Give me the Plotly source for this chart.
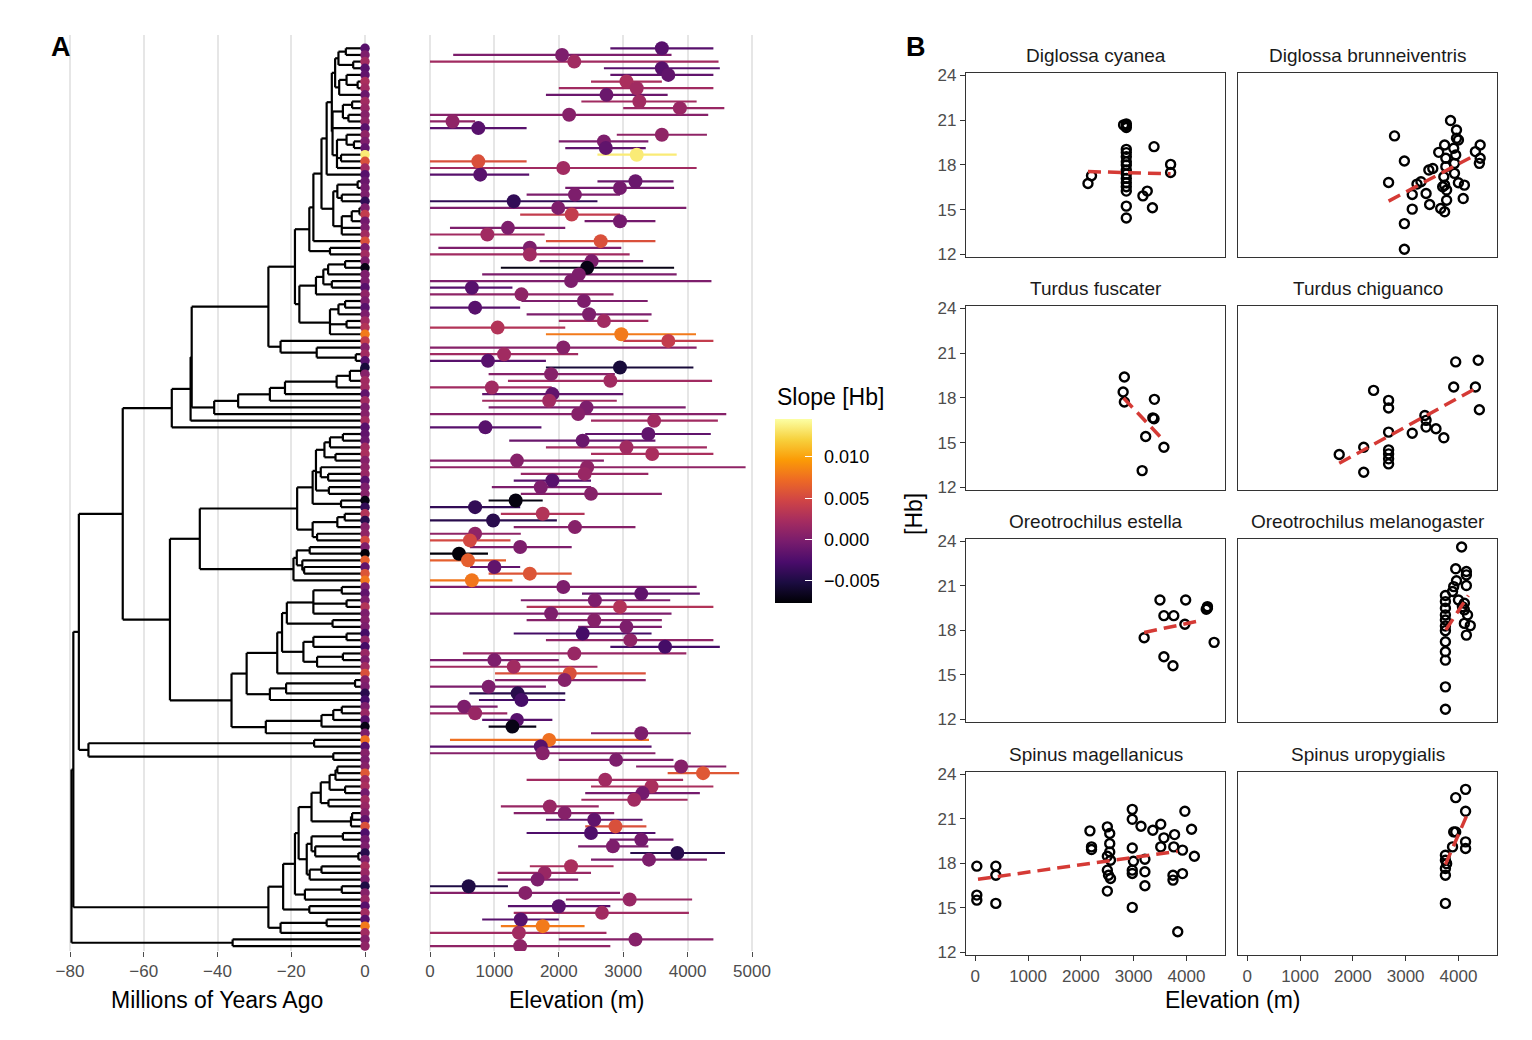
import plotly.graph_objects as go

W, H = 1532, 1040
FONT = "Liberation Sans, Arial, Helvetica, sans-serif"

# ---------------- Panel A data (rows listed top -> bottom) ----------------
elev_min = [2800, 360, 0, 2700, 2800, 2500, 2000, 1800, 2350, 3000,
            0, 0, 0, 2900, 2000, 2100, 2600, 0, 0, 0,
            2600, 2100, 1500, 0, 0, 1400, 2400, 310, 0, 1800,
            130, 0, 1700, 1100, 810, 0, 0, 0, 1420, 0,
            1500, 2000, 0, 1800, 3000, 0,
            0, 0, 1800, 910, 1210, 0, 810, 810, 910, 0,
            2500, 0, 2410, 1230, 1800, 2500, 0, 0, 1410, 1300,
            960, 1410, 910, 0, 1100, 0, 1300, 0, 0, 620,
            0, 0, 620, 910, 0, 0, 2360, 1410, 1500, 0,
            1500, 2300, 1300, 1800, 2800,
            510, 0, 0, 1010, 1010, 0, 610, 760, 0, 0,
            810, 910, 2500, 310, 0, 0, 2000, 3200, 3690, 1500,
            2500, 2410, 2350, 1100, 1300, 1800, 2410, 1500, 2790, 2300,
            3110, 2500, 1550, 1050, 1050, 0, 0, 2110, 1210, 1300,
            810, 1100, 0, 2000, 0]
elev_max = [4400, 3750, 4480, 4500, 4400, 3600, 4400, 3690, 4140, 4570,
            4320, 700, 1500, 4300, 3390, 3350, 3830, 1500, 4140, 1540,
            3780, 3790, 2950, 2600, 3980, 2950, 3500, 2100, 1780, 3500,
            2970, 3100, 3310, 3790, 3830, 4370, 1280, 2850, 3380, 1400,
            3440, 3390, 2100, 4130, 4400, 4140,
            2300, 1800, 4090, 2870, 4380, 1890, 3000, 2900, 3970, 4600,
            4470, 1730, 4360, 3500, 4300, 4400, 2700, 4900, 3390, 2500,
            2500, 3600, 1750, 1400, 2400, 1970, 3190, 1410, 1250, 2200,
            900, 1180, 1400, 2200, 1280, 4140, 4190, 3730, 4400, 3750,
            3600, 3600, 3440, 4400, 4500,
            3980, 2000, 2600, 3350, 3350, 1800, 2100, 2100, 1050, 1200,
            1900, 1650, 4050, 3400, 3440, 3500, 3780, 4600, 4800, 3930,
            4400, 4190, 4000, 2620, 2860, 3300, 3360, 3500, 3780, 3390,
            4580, 4300, 2850, 2500, 2300, 1210, 2950, 4070, 2800, 4020,
            2000, 2400, 2740, 4400, 2800]
elev_mean = [3600, 2050, 2240, 3600, 3700, 3050, 3210, 2740, 3250, 3880,
             2160, 350, 750, 3600, 2700, 2730, 3210, 750, 2070, 780,
             3190, 2950, 2250, 1300, 1990, 2200, 2950, 1210, 890, 2650,
             1550, 1550, 2510, 2440, 2310, 2190, 650, 1420, 2390, 700,
             2470, 2700, 1050, 2970, 3700, 2070,
             1150, 900, 2950, 1880, 2800, 960, 1900, 1850, 2430, 2300,
             3480, 860, 3390, 2370, 3050, 3450, 1350, 2440, 2400, 1900,
             1720, 2500, 1330, 700, 1750, 980, 2250, 700, 620, 1400,
             450, 590, 1000, 1550, 650, 2070, 3280, 2560, 2950, 1880,
             2550, 3050, 2370, 3110, 3650,
             2240, 1000, 1300, 2170, 2090, 910, 1360, 1420, 530, 700,
             1350, 1280, 3280, 1850, 1720, 1750, 2890, 3900, 4240, 2720,
             3440, 3300, 3170, 1860, 2090, 2550, 2880, 2500, 3280, 2840,
             3840, 3400, 2190, 1780, 1670, 600, 1480, 3100, 2000, 2670,
             1410, 1750, 1380, 3190, 1400]
slope = [-0.002, 0.000, 0.002, -0.002, -0.0015, 0.0025, 0.002, -0.001, 0.002, 0.0015,
         0.0005, 0.001, -0.002, 0.001, 0.000, -0.0015, 0.0135, 0.0055, 0.002, -0.002,
         -0.001, -0.0005, 0.000, -0.004, 0.000, 0.004, -0.0005, 0.000, 0.002, 0.0055,
         0.000, 0.002, 0.000, -0.007, 0.000, 0.000, -0.002, 0.001, 0.000, -0.002,
         0.000, 0.002, 0.003, 0.008, 0.004, 0.0005,
         0.002, -0.002, -0.0055, 0.0005, 0.002, 0.002, -0.0015, 0.002, 0.000, 0.0005,
         0.002, -0.002, -0.0015, -0.001, 0.002, 0.0025, 0.0005, 0.001, 0.0015, -0.002,
         0.000, 0.0005, -0.0072, -0.004, 0.003, -0.0045, 0.0005, 0.001, 0.005, 0.000,
         -0.0075, 0.0065, -0.0015, 0.0058, 0.0078, 0.000, -0.0015, 0.000, 0.003, 0.000,
         0.0005, 0.000, -0.003, 0.001, -0.003,
         0.0015, 0.000, 0.002, 0.0055, 0.0005, 0.000, -0.0045, -0.003, 0.000, 0.0015,
         -0.002, -0.007, 0.000, 0.0075, -0.002, 0.0005, 0.000, 0.0005, 0.006, 0.002,
         0.0025, -0.0005, 0.002, 0.0015, 0.0005, -0.0015, 0.0055, -0.0025, -0.0005, 0.000,
         -0.0045, 0.000, 0.0025, 0.0015, 0.000, -0.005, 0.0005, 0.0015, -0.002, 0.002,
         -0.002, 0.008, 0.002, 0.0005, 0.001]
SLOPE_MIN, SLOPE_MAX = -0.0077, 0.0146
slope_ticks = [-0.005, 0.0, 0.005, 0.010]
slope_ticktext = ["\u22120.005", "0.000", "0.005", "0.010"]

# Phylogeny: [node age (Myr, negative), child, child, ...]; ints are tip rows
clade_top = [-26.2,
             [-19.0,
              [-15.1,
               [-14.0,
                [-11.8,
                 [-10.4,
                  [-9.0,
                   [-8.1, [-7.2, [-5.2, 0, 1], [-3.2, 2, 3]], [-7.0, [-5.0, 4, [-2.0, 5, 6]], 7]],
                   [-8.8, [-6.0, [-3.5, 8, 9], [-4.5, 10, 11]], 12,
                    [-7.6, [-5.0, 13, [-3.0, 14, 15]], [-6.5, 16, 17], 18]]],
                  19],
                 [-8.6, [-7.5, [-2.0, 20, 21], [-6.3, 22, 23]],
                  [-6.3, [-3.6, [-1.5, 24, 25], 26], 27, 28]]],
                29],
               [-9.5, 30, 31]],
              [-17.8,
               [-13.3, [-11.3, [-10.0, [-5.4, 32, 33], 34], [-9.0, 35, 36]], 37],
               [-9.5, [-7.2, [-5.4, 38, 39], 40], [-5.0, 41, 42], 43]]],
             [-22.9, 44, [-13.1, 45, [-2.5, 46, 47]]]]
clade_ladder = [-40.9, [-34.4, [-25.8, [-21.7, [-7.7, [-4.1, [-1.0, 48, 49], 50], 51], 52], 53], 54], 55]
clade_u1 = [-52.4, [-47.3, [-47.0, clade_top, clade_ladder], 56], 57]
clade_448 = [-44.8,
             [-18.4,
              [-14.2, [-13.3, [-11.0, [-9.5, [-6.0, 58, 59], 60], [-8.0, 61, 62]],
                       [-12.0, 63, [-10.0, 64, 65]], [-9.8, 66, 67]],
               [-6.5, 68, 69]],
              [-14.2, [-7.5, [-5.5, 70, 71], 72], [-13.0, 73, 74]]],
             [-19.4, [-18.5, [-15.0, 75, 76], [-17.0, 77, [-16.5, 78, 79]]], 80]]
clade_362 = [-36.2,
             [-32.1,
              [-23.8,
               [-22.5,
                [-21.2, [-14.0, [-6.3, 81, 82], [-5.0, 83, 84], 85], [-8.8, 86, 87]],
                [-16.7, [-14.0, [-5.0, 88, 89], 90], [-13.0, [-6.0, 91, 92], 93]]],
               94],
              [-25.8, [-21.4, [-2.7, 95, 96], 97], 98]],
             [-26.9, [-11.8, [-8.6, [-6.3, 99, 100], 101], 102], 103]]
clade_upper = [-65.7, clade_u1, [-52.9, clade_448, clade_362]]
clade_75 = [-75.0, [-13.8, 104, 105], [-8.6, 106, 107]]
clade_bottom = [-26.2,
                [-22.2,
                 [-19.0,
                  [-18.0,
                   [-14.5, [-12.0, [-9.6, [-8.0, [-7.5, 108, 109], 110], [-5.4, 111, 112]], [-9.9, 113, 114]],
                    [-3.8, [-3.5, 115, 116], 117]],
                   [-15.8, [-14.5, [-6.0, 118, 119], [-13.5, 120, [-1.8, 121, 122]]],
                    [-15.0, [-11.8, 123, 124], 125]]],
                  [-16.3, [-6.3, 126, 127], 128]],
                 [-15.1, 129, 130]],
                [-22.9, [-10.4, 131, 132], 133]]
clade_last = [-35.9, 134, 135]
TREE = [-79.6, [-79.1, [-77.6, clade_upper, clade_75], clade_bottom], clade_last]

# ---------------- Panel B data ----------------
panel_titles = ["Diglossa cyanea", "Diglossa brunneiventris", "Turdus fuscater", "Turdus chiguanco",
                "Oreotrochilus estella", "Oreotrochilus melanogaster", "Spinus magellanicus", "Spinus uropygialis"]

dc_elev = [2135, 2202, 2861, 2861, 2861, 2861, 2861, 2861, 2861, 2861, 2861, 2861, 2861, 2861,
           2861, 2861, 2861, 2861, 2809, 3386, 3176, 3258, 3356, 3700, 3700]
dc_hb = [16.75, 17.27, 20.75, 20.64, 20.5, 19.04, 18.82, 18.55, 18.21, 17.99, 17.65, 17.38, 17.09, 16.8,
         16.53, 16.24, 15.23, 14.44, 20.68, 19.22, 15.92, 16.24, 15.12, 18.03, 17.49]
dc_fit_elev = [2135, 3700]
dc_fit_hb = [17.55, 17.4]

db_elev = [2789, 2677, 2976, 2976, 2976, 3125, 3125, 3215, 3387, 3439, 3514, 3454, 3626, 3664, 3738,
           3738, 3761, 3761, 3723, 3738, 3701, 3776, 3776, 3850, 3963, 3963, 4000, 3910, 3948, 3925,
           3925, 3999, 4112, 4090, 4321, 4411, 4411, 4396, 3290]
db_hb = [19.94, 16.82, 18.26, 14.06, 12.34, 16.01, 15.03, 16.71, 16.08, 17.65, 17.76, 15.34, 18.84, 15.07,
         14.85, 19.33, 18.44, 17.88, 17.2, 16.64, 16.53, 16.31, 15.63, 20.97, 20.34, 19.78, 19.67, 19.11,
         18.66, 18.1, 17.43, 16.8, 16.64, 15.74, 18.89, 19.33, 18.44, 18.1, 16.87]
db_fit_elev = [2677, 4224]
db_fit_hb = [15.57, 18.48]

tf_elev = [2824, 2801, 2824, 3393, 3386, 3363, 3228, 3573, 3161]
tf_hb = [19.4, 18.39, 17.72, 17.9, 16.6, 16.66, 15.41, 14.69, 13.12]
tf_fit_elev = [2809, 3498]
tf_fit_hb = [17.99, 15.41]

tc_elev = [1742, 2206, 2206, 2393, 2677, 2677, 2677, 2677, 2677, 2677, 2677, 3125, 3364, 3387, 3387,
           3574, 3723, 3948, 3910, 4374, 4321, 4396]
tc_hb = [14.2, 14.69, 13.01, 18.5, 17.83, 17.32, 15.7, 14.51, 14.24, 13.91, 13.57, 15.63, 16.82, 16.49,
         16.04, 15.93, 15.32, 20.41, 18.73, 20.52, 18.73, 17.2]
tc_fit_elev = [1742, 4396]
tc_fit_hb = [13.61, 18.77]

oe_elev = [3199, 3498, 3573, 3760, 3573, 3745, 3985, 3970, 4397, 4397, 4375, 4524]
oe_hb = [17.5, 20.05, 18.99, 18.99, 16.22, 15.61, 20.05, 18.41, 19.49, 19.6, 19.42, 17.19]
oe_fit_elev = [3199, 4232]
oe_fit_hb = [17.86, 18.63]

om_elev = [3753, 3753, 3753, 3753, 3753, 3753, 3753, 3753, 3753, 3753, 3753, 3753,
           3948, 3910, 3963, 3888, 4000, 4060,
           4150, 4150, 4150, 4112, 4112, 4172, 4112, 4224, 4150, 4075]
om_hb = [20.35, 19.94, 19.49, 19.04, 18.7, 18.29, 17.98, 17.23, 16.56, 15.99, 14.19, 12.68,
         22.15, 20.95, 21.34, 20.62, 20.05, 23.62,
         21.97, 21.74, 21.02, 19.83, 19.38, 19.04, 18.47, 18.32, 17.68, 19.6]
om_fit_elev = [3761, 4187]
om_fit_hb = [18.02, 20.35]

sm_elev = [30, 30, 30, 390, 390, 390, 2172, 2202, 2202, 2502, 2547, 2547, 2547, 2502, 2562, 2502, 2524,
           2562, 2502, 2974, 2974, 2974, 2996, 2974, 2974, 2974, 3139, 3213, 3213, 3213, 3363, 3513,
           3573, 3513, 3775, 3760, 3745, 3745, 3835, 3925, 3925, 3970, 4097, 4150]
sm_hb = [17.81, 15.86, 15.52, 17.81, 17.2, 15.3, 20.19, 19.11, 18.93, 20.46, 20.01, 19.33, 18.77, 18.48,
         18.21, 17.54, 17.2, 16.98, 16.13, 21.64, 20.97, 19.04, 18.14, 17.54, 17.32, 15.03, 20.5, 18.28,
         17.43, 16.49, 20.23, 20.64, 19.72, 19.11, 19.94, 19.11, 17.2, 16.87, 13.39, 18.89, 17.31, 21.51,
         20.3, 18.48]
sm_fit_elev = [52, 3835]
sm_fit_hb = [16.93, 18.82]

su_elev = [3753, 3753, 3753, 3753, 3753, 3776, 3888, 3948, 3910, 3948, 4135, 4135, 4135, 4135]
su_hb = [18.55, 18.21, 17.65, 17.2, 15.3, 17.98, 19.11, 20.12, 20.12, 22.43, 22.99, 21.51, 19.45, 19.0]
su_fit_elev = [3753, 4150]
su_fit_hb = [17.92, 21.17]

panel_points = [(dc_elev, dc_hb, dc_fit_elev, dc_fit_hb), (db_elev, db_hb, db_fit_elev, db_fit_hb),
                (tf_elev, tf_hb, tf_fit_elev, tf_fit_hb), (tc_elev, tc_hb, tc_fit_elev, tc_fit_hb),
                (oe_elev, oe_hb, oe_fit_elev, oe_fit_hb), (om_elev, om_hb, om_fit_elev, om_fit_hb),
                (sm_elev, sm_hb, sm_fit_elev, sm_fit_hb), (su_elev, su_hb, su_fit_elev, su_fit_hb)]

hb_ticks = [12, 15, 18, 21, 24]
elev_ticks_b = [0, 1000, 2000, 3000, 4000]
myr_ticks = [-80, -60, -40, -20, 0]
myr_ticktext = ["\u221280", "\u221260", "\u221240", "\u221220", "0"]
elev_ticks_a = [0, 1000, 2000, 3000, 4000, 5000]


# ---------------- helpers ----------------
def px_x(p):
    return p / W


def px_y(p):
    return 1 - p / H


def layout_tree(node, xs, ys):
    if isinstance(node, int):
        return 0.0, -node
    age = node[0]
    kids = [layout_tree(c, xs, ys) for c in node[1:]]
    kys = [k[1] for k in kids]
    y = sum(kys) / len(kys)
    xs += [age, age, None]
    ys += [min(kys), max(kys), None]
    for kx, ky in kids:
        xs += [age, kx, None]
        ys += [ky, ky, None]
    return age, y


fig = go.Figure()

# ---- tree ----
tx, ty = [], []
layout_tree(TREE, tx, ty)
fig.add_trace(go.Scatter(x=tx, y=ty, mode="lines", line=dict(color="black", width=2.2),
                         xaxis="x", yaxis="y", showlegend=False, hoverinfo="skip"))
rows = list(range(len(slope)))
tip_y = [-r for r in rows]
fig.add_trace(go.Scatter(x=[0] * len(rows), y=tip_y, mode="markers",
                         marker=dict(size=9.5, color=slope, colorscale="Inferno", cmin=SLOPE_MIN, cmax=SLOPE_MAX,
                                     showscale=False, line=dict(width=0)),
                         xaxis="x", yaxis="y", showlegend=False))

# ---- elevation ranges ----
cb_common = dict(x=px_x(775), xanchor="left", y=px_y(419), yanchor="top",
                 len=184, lenmode="pixels", thickness=37, thicknessmode="pixels", outlinewidth=0,
                 tickvals=slope_ticks, ticktext=slope_ticktext, xpad=0, ypad=0)
fig.add_trace(go.Bar(y=tip_y, x=[mx - mn for mn, mx in zip(elev_min, elev_max)], base=elev_min,
                     orientation="h", width=0.33,
                     marker=dict(color=slope, colorscale="Inferno", cmin=SLOPE_MIN, cmax=SLOPE_MAX,
                                 line=dict(width=0)),
                     xaxis="x2", yaxis="y2", showlegend=False))
fig.add_trace(go.Scatter(x=elev_mean, y=tip_y, mode="markers",
                         marker=dict(size=14, color=slope, colorscale="Inferno", cmin=SLOPE_MIN, cmax=SLOPE_MAX,
                                     line=dict(width=0), showscale=True,
                                     colorbar=dict(**cb_common, ticks="inside", ticklen=7, tickcolor="white",
                                                   tickwidth=1.2, showticklabels=False)),
                         xaxis="x2", yaxis="y2", showlegend=False))
# label-only colour bar (transparent bar) so the labels sit clear of the bar like ggplot
fig.add_trace(go.Scatter(x=[None], y=[None], mode="markers",
                         marker=dict(color=[SLOPE_MIN], cmin=SLOPE_MIN, cmax=SLOPE_MAX,
                                     colorscale=[[0, "rgba(0,0,0,0)"], [1, "rgba(0,0,0,0)"]], showscale=True,
                                     colorbar=dict(**cb_common, ticks="outside", ticklen=9,
                                                   tickcolor="rgba(0,0,0,0)",
                                                   tickfont=dict(family=FONT, size=18, color="black"))),
                         xaxis="x2", yaxis="y2", showlegend=False, hoverinfo="skip"))

yr = [-135.74, 2.0]
axis_font = dict(family=FONT, size=17, color="#4d4d4d")
layout = dict(
    width=W, height=H, autosize=False,
    margin=dict(l=0, r=0, t=0, b=0, pad=0, autoexpand=False),
    paper_bgcolor="white", plot_bgcolor="white",
    font=dict(family=FONT, color="black"),
    xaxis=dict(domain=[px_x(55), px_x(378)], range=[-84.07, 3.525], anchor="y",
               tickvals=myr_ticks, ticktext=myr_ticktext, showgrid=True, gridcolor="#e6e6e6", gridwidth=1.6,
               zeroline=False, showline=False, ticks="outside", ticklen=5, tickcolor="#4d4d4d",
               tickfont=axis_font),
    yaxis=dict(domain=[px_y(951), px_y(35)], range=yr, anchor="x", visible=False),
    xaxis2=dict(domain=[px_x(415), px_x(768)], range=[-233, 5248], anchor="y2",
                tickvals=elev_ticks_a, showgrid=True, gridcolor="#e6e6e6", gridwidth=1.6,
                zeroline=False, showline=False, ticks="outside", ticklen=5, tickcolor="#4d4d4d",
                tickfont=axis_font),
    yaxis2=dict(domain=[px_y(951), px_y(35)], range=yr, anchor="x2", visible=False),
)

col_x = [(966, 1225), (1238, 1497)]
row_y = [(73, 257), (306, 490), (539, 722), (772, 955)]
title_y = [55, 288, 521, 754]
annotations = []
for k, (title, pts) in enumerate(zip(panel_titles, panel_points)):
    r, c = divmod(k, 2)
    ax = k + 3
    xs, ys, fx, fy = pts
    fig.add_trace(go.Scatter(x=xs, y=ys, mode="markers",
                             marker=dict(symbol="circle-open", size=9, color="black", line=dict(width=2.4)),
                             xaxis=f"x{ax}", yaxis=f"y{ax}", showlegend=False))
    fig.add_trace(go.Scatter(x=fx, y=fy, mode="lines",
                             line=dict(color="#d53a35", width=3.5, dash="13px,7px"),
                             xaxis=f"x{ax}", yaxis=f"y{ax}", showlegend=False))
    x0, x1 = col_x[c]
    y0, y1 = row_y[r]
    layout[f"xaxis{ax}"] = dict(domain=[px_x(x0), px_x(x1)], range=[-175, 4730], anchor=f"y{ax}",
                                showline=True, mirror=True, linecolor="#333333", linewidth=1.2,
                                showgrid=False, zeroline=False, tickvals=elev_ticks_b,
                                ticks="outside" if r == 3 else "", showticklabels=(r == 3),
                                ticklen=5, tickcolor="#333333", tickfont=axis_font)
    layout[f"yaxis{ax}"] = dict(domain=[px_y(y1), px_y(y0)], range=[11.82, 24.16], anchor=f"x{ax}",
                                showline=True, mirror=True, linecolor="#333333", linewidth=1.2,
                                showgrid=False, zeroline=False, tickvals=hb_ticks,
                                ticks="outside" if c == 0 else "", showticklabels=(c == 0),
                                ticklen=5, tickcolor="#333333", tickfont=axis_font)
    annotations.append(dict(text=title, x=px_x((x0 + x1) / 2), y=px_y(title_y[r]), xref="paper", yref="paper",
                            showarrow=False, xanchor="center", yanchor="middle",
                            font=dict(family=FONT, size=19, color="#1a1a1a")))


def label(text, x, y, size, anchor="center", angle=0, bold=False):
    t = f"<b>{text}</b>" if bold else text
    return dict(text=t, x=px_x(x), y=px_y(y), xref="paper", yref="paper", showarrow=False,
                xanchor=anchor, yanchor="middle", textangle=angle,
                font=dict(family=FONT, size=size, color="black"))


annotations += [
    label("A", 61, 47, 27, bold=True),
    label("B", 916, 47, 27, bold=True),
    label("Millions of Years Ago", 217, 1000, 23),
    label("Elevation (m)", 576, 1000, 23),
    label("Elevation (m)", 1232, 1000, 23),
    label("[Hb]", 914, 514, 23, angle=-90),
    label("Slope [Hb]", 775, 397, 23, anchor="left"),
]
layout["annotations"] = annotations
fig.update_layout(**layout)
fig.write_html("out.html")
